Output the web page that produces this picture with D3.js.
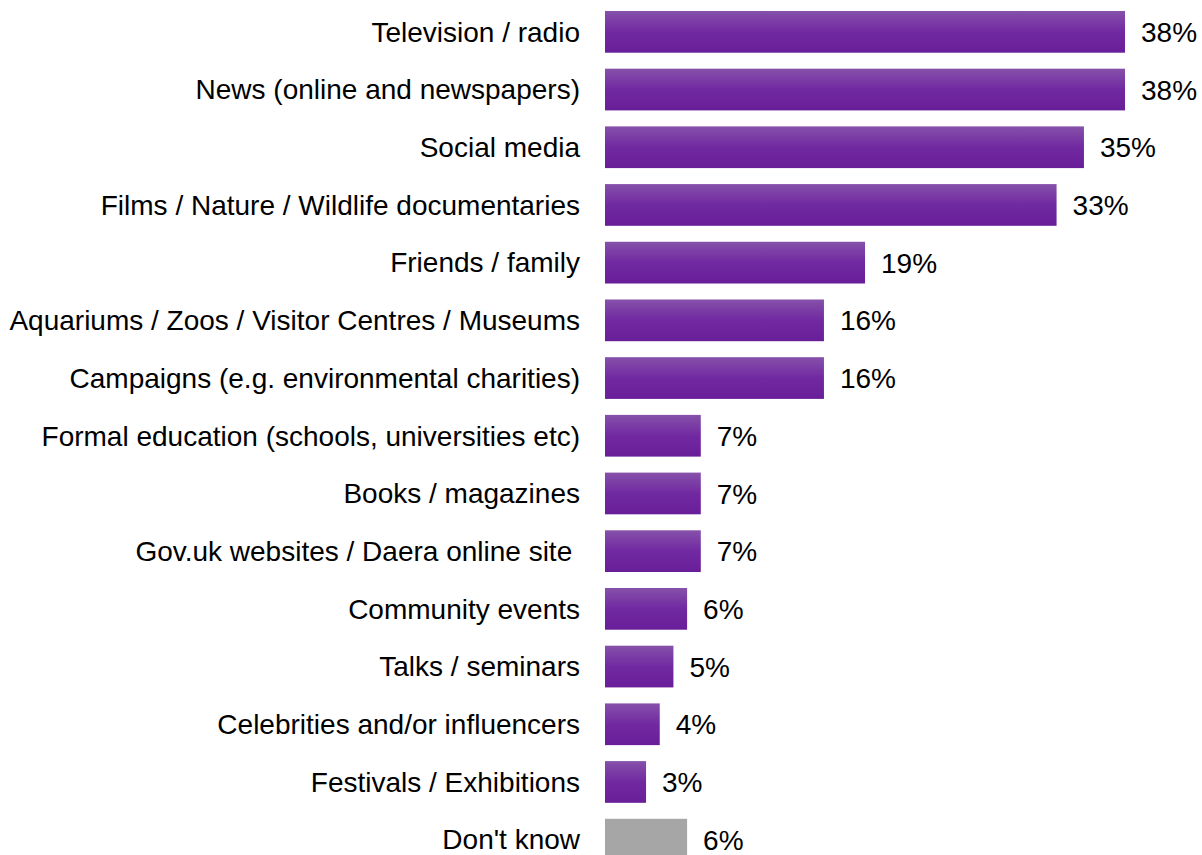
<!DOCTYPE html>
<html>
<head>
<meta charset="utf-8">
<script src="https://cdn.jsdelivr.net/npm/d3@7"></script>
<style>
  html, body { margin: 0; padding: 0; background: #ffffff; }
  svg { display: block; }
  text { font-family: "Liberation Sans", Arial, sans-serif; fill: #000; }
</style>
</head>
<body>
<svg id="chart" width="1202" height="855"></svg>
<script>
// Sources of information (percent of respondents)
const categories = [
  "Television / radio",
  "News (online and newspapers)",
  "Social media",
  "Films / Nature / Wildlife documentaries",
  "Friends / family",
  "Aquariums / Zoos / Visitor Centres / Museums",
  "Campaigns (e.g. environmental charities)",
  "Formal education (schools, universities etc)",
  "Books / magazines",
  "Gov.uk websites / Daera online site ",
  "Community events",
  "Talks / seminars",
  "Celebrities and/or influencers",
  "Festivals / Exhibitions",
  "Don't know"
];
const values = [38, 38, 35, 33, 19, 16, 16, 7, 7, 7, 6, 5, 4, 3, 6];
const valueLabels = ["38%", "38%", "35%", "33%", "19%", "16%", "16%", "7%", "7%", "7%", "6%", "5%", "4%", "3%", "6%"];
const neutralCategories = ["Don't know"];

const svg = d3.select("#chart");
const plotLeft = 605;
const fontSize = 28;

const x = d3.scaleLinear().domain([0, 38]).range([0, 520]);
const y = d3.scaleBand()
  .domain(categories)
  .range([-5, 876.5])
  .paddingInner(0.277)
  .paddingOuter(0.277);

// vertical purple gradient for the bars
const defs = svg.append("defs");
const grad = defs.append("linearGradient")
  .attr("id", "barGrad")
  .attr("x1", 0).attr("y1", 0).attr("x2", 0).attr("y2", 1);
grad.append("stop").attr("offset", "0%").attr("stop-color", "#8651aa");
grad.append("stop").attr("offset", "50%").attr("stop-color", "#7129a1");
grad.append("stop").attr("offset", "100%").attr("stop-color", "#681e98");

const rows = categories.map((c, i) => ({ cat: c, val: values[i], label: valueLabels[i] }));

const g = svg.append("g").attr("transform", `translate(${plotLeft},0)`);

g.selectAll("rect.bar")
  .data(rows)
  .join("rect")
  .attr("class", "bar")
  .attr("x", 0)
  .attr("y", d => y(d.cat))
  .attr("width", d => x(d.val))
  .attr("height", y.bandwidth())
  .attr("fill", d => neutralCategories.includes(d.cat) ? "#a6a6a6" : "url(#barGrad)");

g.selectAll("text.val")
  .data(rows)
  .join("text")
  .attr("class", "val")
  .attr("x", d => x(d.val) + 16)
  .attr("y", d => y(d.cat) + y.bandwidth() / 2)
  .attr("dy", "0.36em")
  .attr("font-size", fontSize)
  .text(d => d.label);

// category axis on the left, no line or ticks
const axis = svg.append("g")
  .attr("transform", `translate(${plotLeft},0)`)
  .call(d3.axisLeft(y).tickSize(0).tickPadding(25));
axis.select(".domain").remove();
axis.selectAll("text")
  .attr("font-size", fontSize)
  .attr("font-family", "Liberation Sans, Arial, sans-serif")
  .attr("fill", "#000")
  .style("white-space", "pre")
  .attr("dy", "0.35em");
</script>
</body>
</html>
